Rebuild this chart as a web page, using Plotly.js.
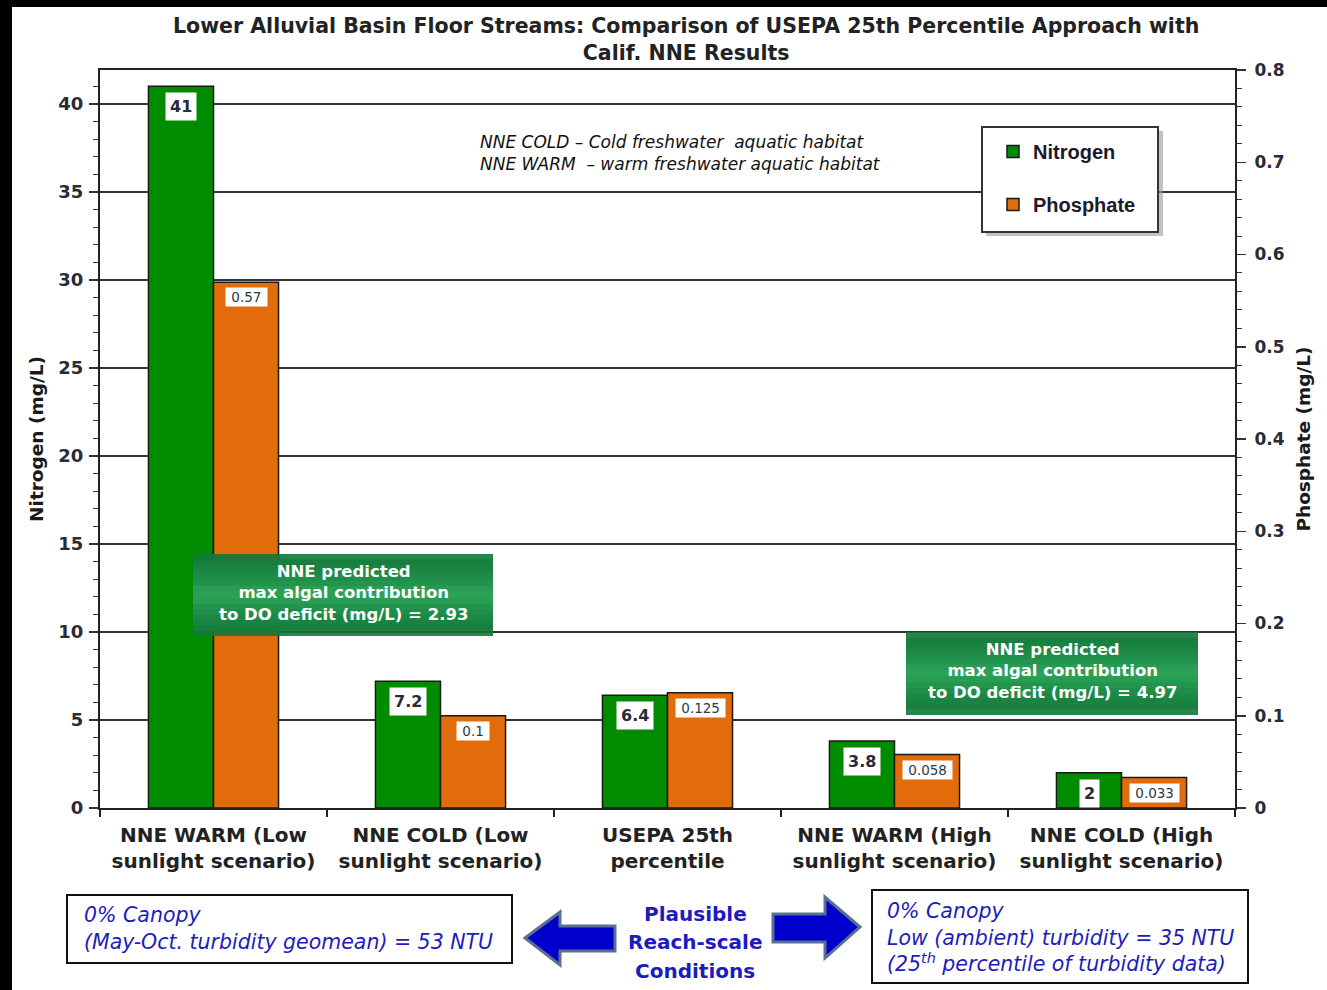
<!DOCTYPE html>
<html>
<head>
<meta charset="utf-8">
<script src="https://cdn.plot.ly/plotly-3.0.1.min.js"></script>
<style>html,body{margin:0;padding:0;background:#fff;}#chart{width:1327px;height:990px;}</style>
</head>
<body>
<div id="chart"></div>
<script>
// ---- data ----
const categories = [
  'NNE WARM (Low<br>sunlight scenario)',
  'NNE COLD (Low<br>sunlight scenario)',
  'USEPA 25th<br>percentile',
  'NNE WARM (High<br>sunlight scenario)',
  'NNE COLD (High<br>sunlight scenario)'
];
const nitrogen = [41, 7.2, 6.4, 3.8, 2];
const phosphate = [0.57, 0.1, 0.125, 0.058, 0.033];
const nitrogenLabels = ['41', '7.2', '6.4', '3.8', '2'];
const phosphateLabels = ['0.57', '0.1', '0.125', '0.058', '0.033'];
const leftTicks = [0, 5, 10, 15, 20, 25, 30, 35, 40];
const rightTicks = [0, 0.1, 0.2, 0.3, 0.4, 0.5, 0.6, 0.7, 0.8];
const rightTickText = ['0', '0.1', '0.2', '0.3', '0.4', '0.5', '0.6', '0.7', '0.8'];

// ---- layout helpers (pixel -> paper) ----
const L = 100, R = 1235, T = 70, B = 808;
const px = x => (x - L) / (R - L);
const py = y => (B - y) / (B - T);
const ARIAL = 'Liberation Sans, Arial, sans-serif';
const WIDE = 'DejaVu Sans, Verdana, sans-serif';
const BLUE = '#1c1cbe';

const traces = [
  {type: 'bar', name: 'Nitrogen', x: categories, y: nitrogen, yaxis: 'y', offsetgroup: 'n', legendgroup: 'a',
   marker: {color: '#008c00', line: {color: '#1a1a1a', width: 1.5}}, hoverinfo: 'skip'},
  {type: 'bar', name: 'Phosphate', x: categories, y: phosphate, yaxis: 'y2', offsetgroup: 'p', legendgroup: 'b',
   marker: {color: '#e36c0a', line: {color: '#1a1a1a', width: 1.5}}, hoverinfo: 'skip'}
];

const annotations = [];
const HALF = 32.5;
categories.forEach((c, i) => {
  annotations.push({x: c, y: nitrogen[i], xref: 'x', yref: 'y', xshift: -HALF, yshift: -6,
    yanchor: 'top', text: nitrogenLabels[i], showarrow: false,
    bgcolor: '#ffffff', borderpad: 4, font: {family: WIDE, size: 16, weight: 'bold', color: '#2a2a38'}});
  annotations.push({x: c, y: phosphate[i], xref: 'x', yref: 'y2', xshift: HALF, yshift: -5,
    yanchor: 'top', text: '&nbsp;' + phosphateLabels[i] + '&nbsp;', showarrow: false,
    bgcolor: '#ffffff', borderpad: 1, font: {family: WIDE, size: 13.5, color: '#2a3a48'}});
});

function txt(x, y, text, font, extra) {
  return Object.assign({xref: 'paper', yref: 'paper', x: px(x), y: py(y), xanchor: 'center', yanchor: 'middle',
    showarrow: false, text: text, font: font}, extra || {});
}

// title
annotations.push(txt(686, 40,
  'Lower Alluvial Basin Floor Streams: Comparison of USEPA 25th Percentile Approach with<br>Calif. NNE Results',
  {family: WIDE, size: 20.5, weight: 'bold', color: '#222'}));

// note text
annotations.push(txt(478, 153,
  'NNE COLD – Cold freshwater  aquatic habitat<br>NNE WARM  – warm freshwater aquatic habitat',
  {family: WIDE, size: 17, style: 'italic', color: '#111'}, {xanchor: 'left', align: 'left'}));

// green boxes text
const boxFont = {family: WIDE, size: 16.5, weight: 'bold', color: '#ffffff'};
annotations.push(txt(343, 593, 'NNE predicted<br>max algal contribution<br>to DO deficit (mg/L) = 2.93', boxFont));
annotations.push(txt(1052, 671, 'NNE predicted<br>max algal contribution<br>to DO deficit (mg/L) = 4.97', boxFont));

// bottom texts
const itFont = {family: WIDE, size: 20.5, style: 'italic', color: BLUE};
annotations.push(txt(82, 928, '0% Canopy<br>(May-Oct. turbidity geomean) = 53 NTU', itFont,
  {xanchor: 'left', align: 'left'}));
const plFont = {family: WIDE, size: 20, weight: 'bold', color: BLUE};
annotations.push(txt(695, 914, 'Plausible', plFont));
annotations.push(txt(695, 942, 'Reach-scale', plFont));
annotations.push(txt(695, 971, 'Conditions', plFont));
annotations.push(txt(885, 937,
  '0% Canopy<br>Low (ambient) turbidity = 35 NTU<br>(25<sup>th</sup> percentile of turbidity data)', itFont,
  {xanchor: 'left', align: 'left'}));

function rect(x0, y0, x1, y1, opts) {
  return Object.assign({type: 'rect', xref: 'paper', yref: 'paper', x0: px(x0), x1: px(x1), y0: py(y1), y1: py(y0),
    layer: 'above'}, opts);
}
function path(pts, opts) {
  const d = pts.map((p, k) => (k ? 'L' : 'M') + px(p[0]) + ',' + py(p[1])).join(' ') + ' Z';
  return Object.assign({type: 'path', xref: 'paper', yref: 'paper', path: d, layer: 'above'}, opts);
}
function greenBox(x0, y0, x1, y1) {
  const out = [rect(x0, y0, x1, y1, {fillcolor: '#13783a', opacity: 0.9, line: {width: 0}})];
  const cols = ['#167e3e', '#198442', '#1c8946', '#1f8f4a', '#23954e', '#289c53', '#2ca257'];
  const h = y1 - y0;
  cols.forEach((c, k) => {
    const iy = h * 0.065 * (k + 1);
    out.push(rect(x0, y0 + iy, x1, y1 - iy, {fillcolor: c, opacity: 0.9, line: {width: 0}}));
  });
  return out;
}

const shapes = [
  // frame
  rect(0, 0, 12, 990, {fillcolor: '#000', line: {width: 0}}),
  rect(0, 0, 1327, 7, {fillcolor: '#000', line: {width: 0}}),
  // legend box
  rect(986, 131, 1163, 236, {fillcolor: '#9a9a9a', opacity: 0.6, line: {width: 0}}),
  rect(982, 127, 1158, 232, {fillcolor: '#ffffff', line: {color: '#333', width: 2}}),
  ...greenBox(193, 554, 493, 636),
  ...greenBox(906, 632, 1198, 715),
  // bottom boxes
  rect(67, 895, 512, 963, {fillcolor: '#ffffff', line: {color: '#111', width: 2}}),
  rect(872, 890, 1248, 983, {fillcolor: '#ffffff', line: {color: '#111', width: 2}}),
  // arrows
  path([[525, 938], [560, 912], [560, 926], [615, 926], [615, 951], [560, 951], [560, 965]],
       {fillcolor: '#0000cc', line: {color: '#5a7090', width: 3}}),
  path([[860, 927], [825, 897], [825, 914], [773, 914], [773, 942], [825, 942], [825, 958]],
       {fillcolor: '#0000cc', line: {color: '#5a7090', width: 3}})
];

const layout = {
  width: 1327, height: 990,
  margin: {l: L, r: 1327 - R, t: T, b: 990 - B, autoexpand: false},
  paper_bgcolor: '#ffffff', plot_bgcolor: '#ffffff',
  font: {family: ARIAL, color: '#222'},
  barmode: 'group', bargap: 0.427, bargroupgap: 0,
  showlegend: true,
  legend: {x: px(993), y: py(132), xanchor: 'left', yanchor: 'top', bgcolor: 'rgba(0,0,0,0)', borderwidth: 0,
    tracegroupgap: 24, font: {family: ARIAL, size: 20, weight: 'bold', color: '#1a1a2a'}},
  xaxis: {type: 'category', tickson: 'boundaries', ticks: 'outside', ticklen: 7, tickcolor: '#222', tickwidth: 1.5,
    showline: true, linecolor: '#222', linewidth: 2, mirror: true, showgrid: false, ticklabelstandoff: 8,
    tickfont: {family: WIDE, size: 20, weight: 'bold', color: '#222'}, automargin: false, fixedrange: true},
  yaxis: {range: [0, 41.93], tickvals: leftTicks, ticktext: leftTicks.map(String),
    showgrid: true, gridcolor: '#333', gridwidth: 1.5, zeroline: false,
    ticks: 'outside', ticklen: 9, tickwidth: 1.5, tickcolor: '#333', ticklabelstandoff: 2,
    minor: {dtick: 1, ticks: 'outside', ticklen: 5, tickcolor: '#333', tickwidth: 1, showgrid: false},
    showline: true, linecolor: '#222', linewidth: 2,
    tickfont: {family: WIDE, size: 18, weight: 'bold', color: '#2a2a38'},
    title: {text: 'Nitrogen (mg/L)', font: {family: WIDE, size: 18.5, weight: 'bold', color: '#1a1a1a'}, standoff: 10},
    automargin: false, fixedrange: true},
  yaxis2: {range: [0, 0.8], overlaying: 'y', side: 'right', tickvals: rightTicks,
    ticktext: rightTickText, showgrid: false, zeroline: false,
    ticks: 'outside', ticklen: 9, tickwidth: 1.5, tickcolor: '#333', ticklabelstandoff: 5,
    minor: {dtick: 0.02, ticks: 'outside', ticklen: 5, tickcolor: '#333', tickwidth: 1, showgrid: false},
    showline: true, linecolor: '#222', linewidth: 2,
    tickfont: {family: WIDE, size: 17, weight: 'bold', color: '#2a2a38'},
    title: {text: 'Phosphate (mg/L)', font: {family: WIDE, size: 18.5, weight: 'bold', color: '#1a1a1a'}, standoff: 13},
    automargin: false, fixedrange: true},
  annotations: annotations,
  shapes: shapes,
  hovermode: false
};

Plotly.newPlot('chart', traces, layout, {displayModeBar: false, staticPlot: true});
</script>
</body>
</html>
